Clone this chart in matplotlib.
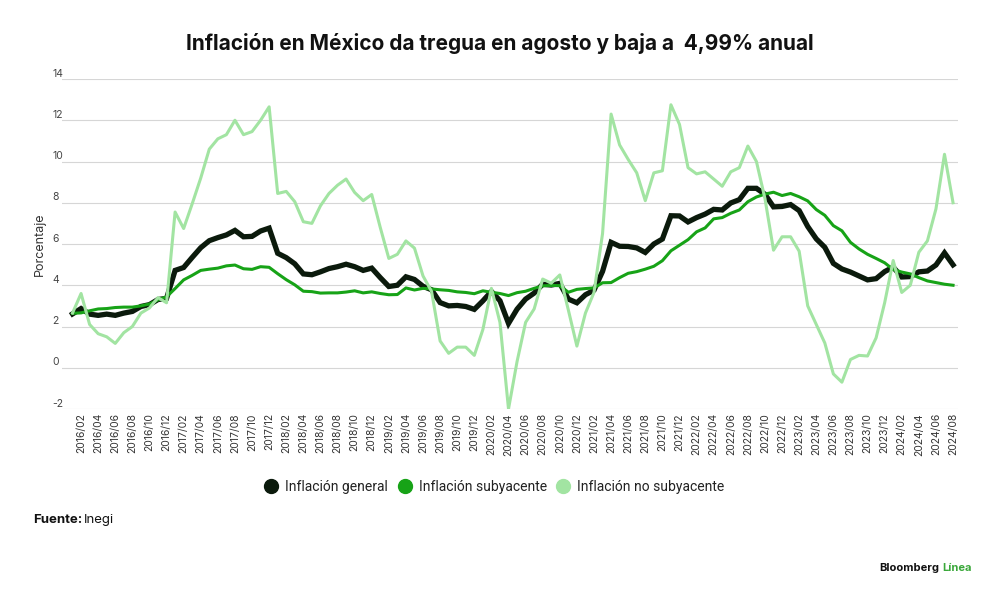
import numpy as np
import pandas as pd
import matplotlib
matplotlib.use("Agg")
import matplotlib.pyplot as plt
from matplotlib.lines import Line2D

plt.rcParams['font.family'] = ['Inter', 'DejaVu Sans']

# -----------------------
# Data (annual %, INEGI), monthly 2016/01 - 2024/08
# -----------------------
months = pd.period_range("2016-01", "2024-08", freq="M").strftime("%Y/%m").tolist()

general = [
    2.61, 2.87, 2.60, 2.54, 2.60, 2.54, 2.65, 2.73, 2.97, 3.06, 3.31, 3.36,
    4.72, 4.86, 5.35, 5.82, 6.16, 6.31, 6.44, 6.66, 6.35, 6.37, 6.63, 6.77,
    5.55, 5.34, 5.04, 4.55, 4.51, 4.65, 4.81, 4.90, 5.02, 4.90, 4.72, 4.83,
    4.37, 3.94, 4.00, 4.41, 4.28, 3.95, 3.78, 3.16, 3.00, 3.02, 2.97, 2.83,
    3.24, 3.70, 3.25, 2.15, 2.84, 3.33, 3.62, 4.05, 4.01, 4.09, 3.33, 3.15,
    3.54, 3.76, 4.67, 6.08, 5.89, 5.88, 5.81, 5.59, 6.00, 6.24, 7.37, 7.36,
    7.07, 7.28, 7.45, 7.68, 7.65, 7.99, 8.15, 8.70, 8.70, 8.41, 7.80, 7.82,
    7.91, 7.62, 6.85, 6.25, 5.84, 5.06, 4.79, 4.64, 4.45, 4.26, 4.32, 4.66,
    4.88, 4.40, 4.42, 4.65, 4.69, 4.98, 5.57, 4.99,
]

subyacente = [
    2.64, 2.66, 2.76, 2.85, 2.87, 2.92, 2.94, 2.94, 3.00, 3.09, 3.29, 3.44,
    3.84, 4.26, 4.48, 4.72, 4.78, 4.83, 4.94, 4.98, 4.80, 4.77, 4.90, 4.87,
    4.56, 4.27, 4.02, 3.71, 3.69, 3.62, 3.63, 3.63, 3.67, 3.73, 3.63, 3.68,
    3.60, 3.54, 3.55, 3.87, 3.77, 3.85, 3.82, 3.78, 3.75, 3.68, 3.65, 3.59,
    3.73, 3.66, 3.60, 3.50, 3.64, 3.71, 3.85, 3.97, 3.99, 3.98, 3.66, 3.80,
    3.84, 3.87, 4.12, 4.13, 4.37, 4.58, 4.66, 4.78, 4.92, 5.19, 5.67, 5.94,
    6.21, 6.59, 6.78, 7.22, 7.28, 7.49, 7.65, 8.05, 8.28, 8.42, 8.51, 8.35,
    8.45, 8.29, 8.09, 7.67, 7.39, 6.89, 6.64, 6.08, 5.76, 5.50, 5.30, 5.09,
    4.76, 4.64, 4.55, 4.37, 4.21, 4.13, 4.05, 4.00,
]

no_subyacente = [
    2.65, 3.60, 2.10, 1.65, 1.50, 1.18, 1.70, 2.00, 2.65, 2.90, 3.40, 3.15,
    7.55, 6.75, 7.95, 9.20, 10.60, 11.10, 11.30, 12.00, 11.30, 11.45, 12.00, 12.65,
    8.45, 8.55, 8.05, 7.08, 7.00, 7.85, 8.45, 8.85, 9.15, 8.50, 8.10, 8.40,
    6.80, 5.30, 5.50, 6.15, 5.80, 4.45, 3.70, 1.30, 0.70, 1.00, 1.00, 0.60,
    1.85, 3.85, 2.20, -2.00, 0.30, 2.20, 2.85, 4.30, 4.10, 4.50, 2.80, 1.05,
    2.65, 3.65, 6.50, 12.30, 10.80, 10.10, 9.45, 8.10, 9.45, 9.55, 12.75, 11.80,
    9.70, 9.40, 9.50, 9.15, 8.80, 9.50, 9.70, 10.75, 10.00, 8.20, 5.70, 6.35,
    6.35, 5.65, 3.00, 2.10, 1.20, -0.30, -0.70, 0.40, 0.60, 0.57, 1.45, 3.15,
    5.20, 3.65, 4.00, 5.60, 6.15, 7.70, 10.35, 8.00,
]

series_names = ["Inflación general", "Inflación subyacente", "Inflación no subyacente"]
series_colors = ["#0b1a0c", "#17a317", "#a2e4a2"]
y_ticks = [-2, 0, 2, 4, 6, 8, 10, 12, 14]

title = "Inflación en México da tregua en agosto y baja a  4,99% anual"

# -----------------------
# Figure
# -----------------------
fig = plt.figure(figsize=(10, 5.95), dpi=100)
ax = fig.add_axes([0.062, 1 - 409 / 595, 0.896, 330 / 595])

x = np.arange(len(months))
ax.plot(x, general, color=series_colors[0], lw=3.8, solid_joinstyle="miter", zorder=3)
ax.plot(x, subyacente, color=series_colors[1], lw=2.2, zorder=4)
ax.plot(x, no_subyacente, color=series_colors[2], lw=2.2, zorder=5)

ax.set_xlim(-1.23, len(months) - 1 + 0.58)
ax.set_ylim(-2, 14)

# grid lines + labels sitting above each line
for v in y_ticks:
    ax.axhline(v, color="#d6d6d6", lw=0.8, zorder=1)
    ax.text(-0.011, v + 0.26, str(v), transform=ax.get_yaxis_transform(),
            ha="left", va="center", fontsize=7.5, color="#444444")
ax.set_yticks([])
ax.set_ylabel("Porcentaje", fontsize=9, color="#333333")
ax.yaxis.set_label_coords(-0.018, 0.5)

ax.set_xticks(x[1::2])
ax.set_xticklabels(months[1::2], rotation=90, fontsize=7.5, color="#333333")
ax.tick_params(axis="x", length=0, pad=3)

for s in ax.spines.values():
    s.set_visible(False)

# title
fig.text(0.5, 1 - 43 / 595, title, ha="center", va="center",
         fontsize=15, fontweight="bold", color="#111111")

# legend
handles = [Line2D([], [], ls="none", marker="o", markersize=10,
                  markerfacecolor=c, markeredgecolor=c) for c in series_colors]
fig.legend(handles, series_names, loc="center", bbox_to_anchor=(0.4945, 1 - 487 / 595),
           ncol=3, frameon=False, prop={"family": "Roboto", "size": 10},
           handlelength=1.0, handletextpad=0.5, columnspacing=0.7,
           labelcolor="#222222")

# source + brand
renderer = fig.canvas.get_renderer()
t1 = fig.text(33 / 1000, 1 - 520 / 595, "Fuente:", ha="left", va="center",
              fontsize=9.5, fontweight="bold", color="#111111")
bb = t1.get_window_extent(renderer)
fig.text(bb.x1 / 1000 + 0.002, 1 - 520 / 595, "Inegi", ha="left", va="center",
         fontsize=9.5, color="#111111")

t2 = fig.text(972 / 1000, 1 - 568 / 595, "Línea", ha="right", va="center",
              fontsize=8, fontweight="bold", color="#3aa83a")
bb2 = t2.get_window_extent(renderer)
fig.text(bb2.x0 / 1000 - 0.003, 1 - 568 / 595, "Bloomberg", ha="right", va="center",
         fontsize=8, fontweight="bold", color="#111111")

fig.savefig("out.png", dpi=100, facecolor="white")
